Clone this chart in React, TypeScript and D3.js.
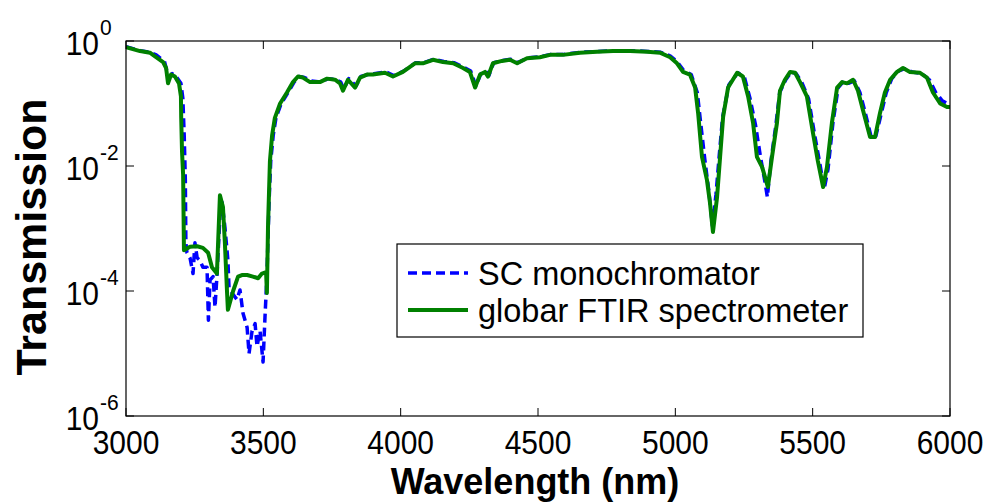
import React from "react";
import * as d3 from "d3";

const greenWl = [3000,3051,3087,3098,3135,3146,3153,3164,3178,3193,3200,3201,3204,3208,3211,3233,3259,3280,3299,3313,3331,3342,3353,3360,3368,3371,3390,3408,3422,3441,3462,3481,3495,3510,3513,3517,3524,3532,3542,3561,3586,3608,3626,3644,3670,3706,3732,3761,3779,3790,3808,3834,3852,3877,3899,3943,3972,4008,4052,4081,4118,4154,4191,4227,4252,4271,4289,4307,4318,4336,4369,4398,4424,4460,4507,4544,4591,4653,4715,4773,4835,4897,4944,4981,5006,5028,5053,5072,5083,5097,5115,5126,5137,5152,5163,5174,5192,5225,5246,5265,5283,5297,5316,5337,5352,5370,5381,5399,5418,5436,5454,5479,5501,5519,5538,5552,5570,5589,5607,5625,5647,5665,5683,5709,5727,5745,5763,5782,5807,5829,5854,5891,5916,5938,5964,5989,6000];
const greenT = [0.80,0.69,0.65,0.60,0.46,0.37,0.21,0.29,0.27,0.21,0.13,0.059,0.017,0.0072,4.5e-4,5.1e-4,5.2e-4,4.9e-4,4.1e-4,2.4e-4,1.9e-4,0.0034,0.0022,5.9e-4,9.3e-5,5.0e-5,1.0e-4,1.7e-4,1.8e-4,1.8e-4,1.7e-4,1.6e-4,1.9e-4,2.0e-4,9.3e-5,0.00106,0.012,0.031,0.059,0.10,0.15,0.22,0.27,0.26,0.22,0.22,0.25,0.24,0.21,0.16,0.24,0.18,0.26,0.29,0.29,0.31,0.27,0.32,0.44,0.44,0.50,0.46,0.44,0.37,0.32,0.18,0.29,0.32,0.27,0.44,0.48,0.50,0.44,0.53,0.55,0.60,0.60,0.65,0.67,0.69,0.69,0.67,0.65,0.55,0.44,0.32,0.29,0.18,0.070,0.014,0.006,0.0026,8.8e-4,0.0032,0.014,0.061,0.18,0.31,0.27,0.13,0.049,0.014,0.0096,0.0046,0.014,0.049,0.16,0.24,0.32,0.31,0.22,0.13,0.034,0.012,0.0046,0.0096,0.049,0.18,0.22,0.21,0.24,0.16,0.079,0.029,0.029,0.070,0.15,0.24,0.32,0.37,0.32,0.31,0.26,0.15,0.10,0.088,0.088];

const blueWl = [3000,3051,3087,3110,3140,3155,3168,3185,3200,3207,3212,3216,3218,3222,3233,3244,3251,3259,3269,3280,3295,3300,3306,3317,3324,3331,3345,3350,3360,3371,3375,3386,3404,3415,3426,3441,3448,3459,3470,3477,3488,3499,3506,3513,3521,3527,3536,3546,3565,3590,3612,3630,3650,3675,3710,3736,3765,3782,3793,3811,3837,3855,3880,3902,3946,3975,4011,4055,4084,4121,4157,4194,4230,4255,4274,4292,4310,4321,4339,4372,4401,4427,4463,4510,4547,4594,4656,4718,4776,4838,4900,4947,4981,5006,5030,5058,5080,5092,5108,5122,5135,5148,5160,5172,5195,5228,5252,5272,5292,5310,5325,5335,5348,5366,5380,5402,5422,5440,5460,5485,5508,5526,5542,5556,5574,5593,5610,5630,5652,5672,5690,5714,5730,5750,5768,5788,5812,5835,5862,5898,5925,5948,5972,6000];
const blueT = [0.81,0.70,0.66,0.60,0.47,0.26,0.30,0.26,0.21,0.12,0.03,0.006,5.9e-4,4.1e-4,3.4e-4,1.9e-4,5.9e-4,3.4e-4,3.1e-4,2.4e-4,2.4e-4,3.4e-5,1.5e-4,1.7e-4,5.5e-5,1.7e-4,2.8e-3,2.6e-3,1.06e-3,3.1e-4,1.15e-4,9.3e-5,7.3e-5,1.04e-4,4.4e-5,2.6e-5,1.0e-5,2.3e-5,3.0e-5,1.3e-5,2.3e-5,7.3e-6,3.8e-5,1.7e-4,2.8e-3,0.012,0.031,0.059,0.10,0.15,0.22,0.27,0.26,0.23,0.22,0.25,0.24,0.22,0.17,0.25,0.19,0.27,0.29,0.30,0.32,0.28,0.33,0.45,0.45,0.51,0.47,0.45,0.38,0.33,0.19,0.30,0.33,0.28,0.45,0.49,0.51,0.45,0.54,0.56,0.61,0.61,0.66,0.68,0.70,0.70,0.68,0.66,0.58,0.47,0.34,0.29,0.15,0.05,0.012,0.004,1.1e-3,0.0035,0.015,0.06,0.20,0.31,0.26,0.12,0.045,0.014,0.006,0.0032,0.012,0.045,0.15,0.24,0.32,0.30,0.22,0.12,0.030,0.011,0.0043,0.009,0.05,0.18,0.22,0.21,0.23,0.15,0.075,0.028,0.030,0.07,0.15,0.25,0.33,0.36,0.32,0.30,0.24,0.15,0.11,0.095];

const xTicks = [3000, 3500, 4000, 4500, 5000, 5500, 6000];
const yTickExps = [0, -2, -4, -6];
const seriesNames = ["SC monochromator", "globar FTIR spectrometer"];

export default function App() {
  const W = 989, H = 503;
  const left = 126, right = 950, top = 41, bottom = 416;
  const x = d3.scaleLinear().domain([3000, 6000]).range([left, right]);
  const y = d3.scaleLog().domain([1e-6, 1]).range([bottom, top]);
  const line = d3.line<[number, number]>().x(d => x(d[0])).y(d => y(d[1]));
  const gData = greenWl.map((w, i) => [w, greenT[i]] as [number, number]);
  const bData = blueWl.map((w, i) => [w, blueT[i]] as [number, number]);
  const font = "'Liberation Sans', Arial, sans-serif";
  const tickLen = 8;
  const sy = 1.08;
  return (
    <svg width={W} height={H} style={{ position: "absolute", left: 0, top: 0, background: "#fff" }} fontFamily={font}>
      <rect x={0} y={0} width={W} height={H} fill="#fff" />
      <defs>
        <clipPath id="plotclip">
          <rect x={left} y={top} width={right - left} height={bottom - top} />
        </clipPath>
      </defs>
      <g clipPath="url(#plotclip)">
        <path d={line(bData) || ""} fill="none" stroke="#0000ff" strokeWidth={3.5} strokeDasharray="9,5" strokeLinejoin="round" />
        <path d={line(gData) || ""} fill="none" stroke="#008000" strokeWidth={4} strokeLinejoin="round" />
      </g>
      <rect x={left} y={top} width={right - left} height={bottom - top} fill="none" stroke="#000" strokeWidth={1.2} />
      {xTicks.map(t => (
        <g key={"xt" + t}>
          <line x1={x(t)} x2={x(t)} y1={bottom} y2={bottom - tickLen} stroke="#000" />
          <line x1={x(t)} x2={x(t)} y1={top} y2={top + tickLen} stroke="#000" />
          <text transform={`translate(${x(t)},454) scale(1,${sy})`} fontSize={30} textAnchor="middle" fill="#000">{t}</text>
        </g>
      ))}
      {yTickExps.map(e => (
        <g key={"yt" + e}>
          <line x1={left} x2={left + tickLen} y1={y(Math.pow(10, e))} y2={y(Math.pow(10, e))} stroke="#000" />
          <line x1={right} x2={right - tickLen} y1={y(Math.pow(10, e))} y2={y(Math.pow(10, e))} stroke="#000" />
          <text transform={`translate(99,${y(Math.pow(10, e)) + 14}) scale(1,${sy})`} fontSize={30} textAnchor="end" fill="#000">10</text>
          <text transform={`translate(100,${y(Math.pow(10, e)) - 6}) scale(1,${sy})`} fontSize={21} textAnchor="start" fill="#000">{e === 0 ? "0" : "-" + Math.abs(e)}</text>
        </g>
      ))}
      <text x={535} y={494} fontSize={36} fontWeight="bold" textAnchor="middle" fill="#000">Wavelength (nm)</text>
      <text transform="translate(46,237) rotate(-90)" fontSize={43} fontWeight="bold" textAnchor="middle" fill="#000">Transmission</text>
      <g>
        <rect x={397} y={244} width={466} height={93} fill="#fff" stroke="#000" strokeWidth={1.2} />
        <line x1={408} x2={468} y1={273} y2={273} stroke="#0000ff" strokeWidth={3.5} strokeDasharray="9,5" />
        <line x1={408} x2={468} y1={310} y2={310} stroke="#008000" strokeWidth={4} />
        <text x={478} y={285} fontSize={32.5} fill="#000">{seriesNames[0]}</text>
        <text x={478} y={322} fontSize={32.5} fill="#000">{seriesNames[1]}</text>
      </g>
    </svg>
  );
}
